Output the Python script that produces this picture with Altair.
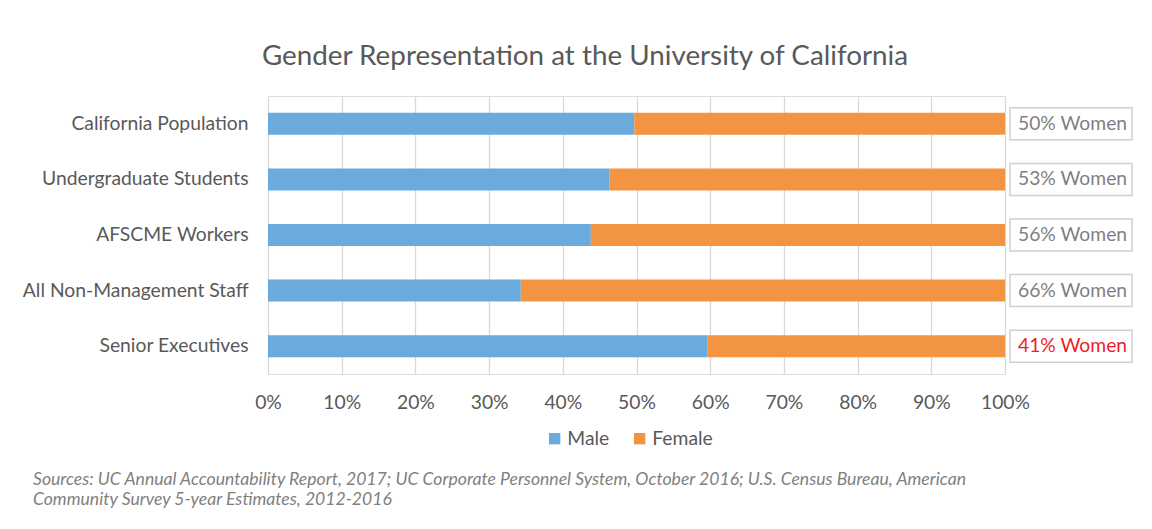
import altair as alt
import pandas as pd

TITLE = "Gender Representation at the University of California"
SOURCES = ("Sources: UC Annual Accountability Report, 2017; UC Corporate Personnel System, October 2016; U.S. Census Bureau, American\n"
           "Community Survey 5-year Estimates, 2012-2016")

categories = ["California Population", "Undergraduate Students", "AFSCME Workers",
              "All Non-Management Staff", "Senior Executives"]
male = [49.7, 46.3, 43.8, 34.3, 59.6]
female = [50.3, 53.7, 56.2, 65.7, 40.4]
women_labels = ["50% Women", "53% Women", "56% Women", "66% Women", "41% Women"]
label_colors = ["#7f7f7f", "#7f7f7f", "#7f7f7f", "#7f7f7f", "#ee1c25"]
genders = ["Male", "Female"]
gender_colors = ["#6aaadd", "#f39442"]
tick_values = [0, 0.1, 0.2, 0.3, 0.4, 0.5, 0.6, 0.7, 0.8, 0.9, 1.0]

rows = []
for c, m, f in zip(categories, male, female):
    rows.append({"category": c, "gender": "Male", "share": m / 100, "order": 0})
    rows.append({"category": c, "gender": "Female", "share": f / 100, "order": 1})
long_df = pd.DataFrame(rows)
label_df = pd.DataFrame({"category": categories, "label": women_labels, "color": label_colors})
note_df = pd.DataFrame({"t": [TITLE], "s": [SOURCES]})

FONT = "Lato"
GREY = "#595959"
FS = 19.3

y_enc = alt.Y("category:N", sort=categories, title=None,
              scale=alt.Scale(paddingInner=0, paddingOuter=0),
              axis=alt.Axis(domain=False, ticks=False, grid=False, labelFont=FONT,
                            labelFontSize=FS, labelColor=GREY, labelPadding=20,
                            labelLimit=400))

bars = alt.Chart(long_df).mark_bar(size=22).encode(
    y=y_enc,
    x=alt.X("share:Q", stack="zero", title=None,
            scale=alt.Scale(domain=[0, 1], nice=False),
            axis=alt.Axis(format="%", values=tick_values, domain=False, ticks=False,
                          grid=True, gridColor="#d9d9d9", gridWidth=1.3,
                          labelFont=FONT, labelFontSize=FS, labelColor=GREY,
                          labelPadding=19, labelFlush=False)),
    color=alt.Color("gender:N", scale=alt.Scale(domain=genders, range=gender_colors),
                    legend=alt.Legend(title=None, orient="none", legendX=277, legendY=333,
                                      direction="horizontal", symbolType="square",
                                      symbolSize=130, symbolStrokeWidth=0,
                                      labelFont=FONT, labelFontSize=FS, labelColor=GREY,
                                      labelOffset=3, columnPadding=20)),
    order=alt.Order("order:Q"),
)

boxes = alt.Chart(label_df).mark_bar(size=32, fill="white", stroke="#d0d0d0",
                                     strokeWidth=1.5, xOffset=5, x2Offset=127).encode(
    y=alt.Y("category:N", sort=categories),
    x=alt.datum(1),
    x2=alt.datum(1),
)

texts = alt.Chart(label_df).mark_text(align="left", baseline="middle", dx=13, dy=0,
                                      font=FONT, fontSize=FS).encode(
    y=alt.Y("category:N", sort=categories),
    x=alt.datum(1),
    text="label:N",
    color=alt.Color("color:N", scale=None),
)

title = alt.Chart(note_df).mark_text(align="center", baseline="middle", font=FONT,
                                     fontSize=27.8, color=GREY).encode(
    x=alt.value(317), y=alt.value(-39), text="t:N")

sources = alt.Chart(note_df).mark_text(align="left", baseline="alphabetic", font=FONT,
                                       fontSize=17.6, fontStyle="italic", color="#7f7f7f",
                                       lineBreak="\n", lineHeight=19.5).encode(
    x=alt.value(-235), y=alt.value(389), text="s:N")

chart = alt.layer(bars, boxes, texts, title, sources).properties(
    width=737, height=278,
    padding={"left": 260, "top": 88, "right": 139, "bottom": 147},
    autosize=alt.AutoSizeParams(type="none"),
).configure_view(stroke=None).configure(background="white")

chart.save("out.html", embed_options={"renderer": "svg", "actions": False})
